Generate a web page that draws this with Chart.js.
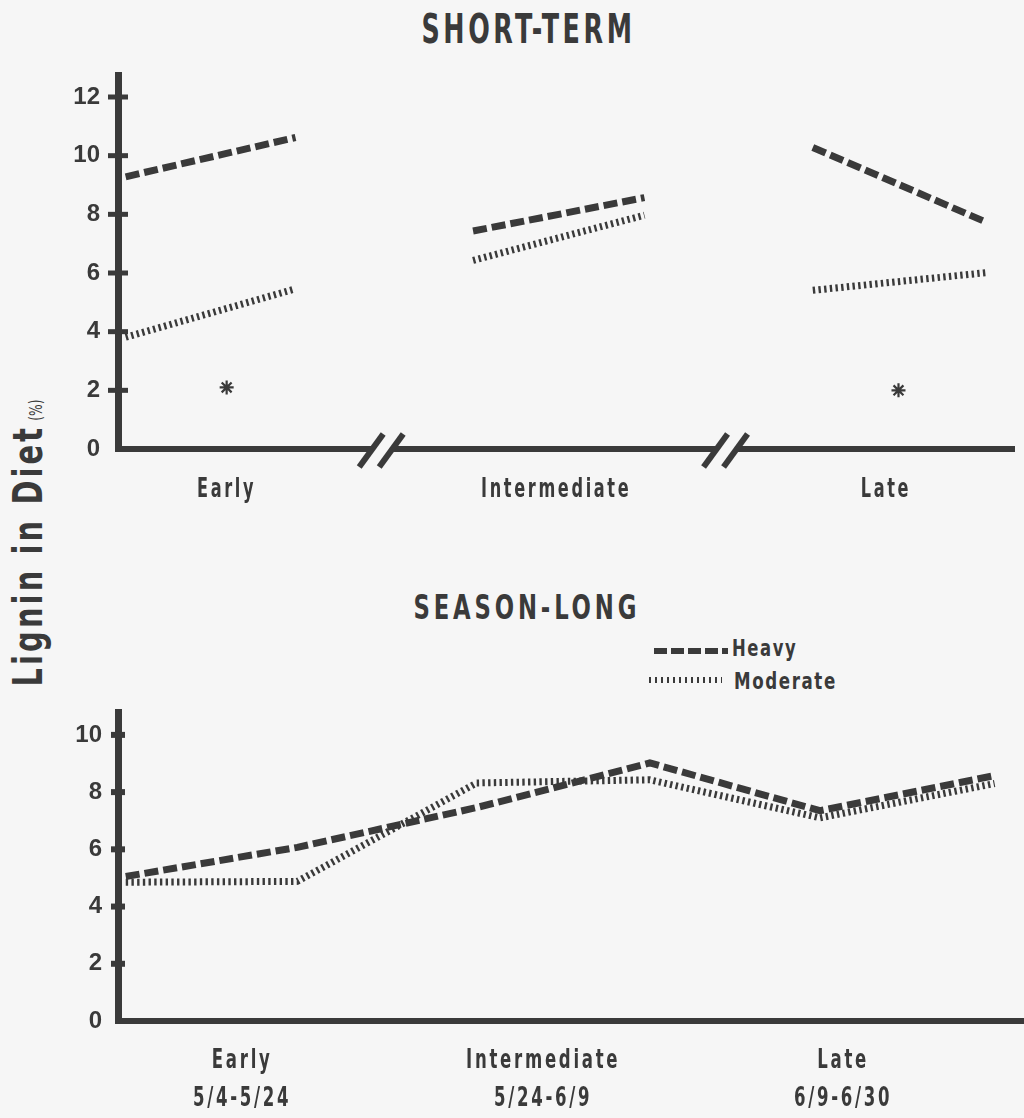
<!DOCTYPE html>
<html>
<head>
<meta charset="utf-8">
<script src="https://cdn.jsdelivr.net/npm/chart.js@4.4.0/dist/chart.umd.min.js"></script>
<style>
  html, body { margin: 0; padding: 0; background: #f6f6f6; }
  #page { position: relative; width: 1024px; height: 1118px; overflow: hidden; }
  canvas { position: absolute; left: 0; }
  .txt {
    position: absolute;
    white-space: nowrap;
    font-family: "Liberation Sans Narrow", "DejaVu Sans Condensed", "Arial Narrow", sans-serif;
    font-weight: bold;
    color: #3a3a3a;
    line-height: 1;
  }
  .sample { position: absolute; }
</style>
</head>
<body>
<div id="page">
  <div id="titleShort" class="txt" style="font-size:40px;letter-spacing:5px;">SHORT-TERM</div>
  <div id="titleLong" class="txt" style="font-size:33px;letter-spacing:5px;">SEASON-LONG</div>
  <div id="ytitle" class="txt"><span style="font-size:40px;letter-spacing:4px;">Lignin in Diet</span> <span style="font-size:17px;font-weight:normal;">(%)</span></div>

  <div class="sample" style="left:650px;top:648px;width:78px;height:6px;background:repeating-linear-gradient(to right,transparent 0 4px,#3a3a3a 4px 17px);"></div>
  <div class="sample" style="left:649px;top:677px;width:73px;height:6px;background:repeating-linear-gradient(to right,#3a3a3a 0 2px,transparent 2px 6px);"></div>
  <div id="legHeavy" class="txt" style="font-size:23px;letter-spacing:2px;">Heavy</div>
  <div id="legModerate" class="txt" style="font-size:23px;letter-spacing:2px;">Moderate</div>

  <canvas id="shortChart" width="1024" height="530" style="top:0px;"></canvas>
  <canvas id="longChart" width="1024" height="418" style="top:700px;"></canvas>
</div>

<script>
const ink = "#3a3a3a";
const paper = "#f6f6f6";

// periods and their date ranges
const periods = ["Early", "Intermediate", "Late"];
const periodDates = ["5/4-5/24", "5/24-6/9", "6/9-6/30"];

// collection dates, days after 5/4
const sampleDays = [0.5, 11.6, 23.2, 34.4, 45.4, 56.7];
const dayMax = 58.6;

// short-term trial: start / end value in each period
const shortHeavy = [9.28, 10.62, 7.43, 8.57, 10.28, 7.74];
const shortModerate = [3.81, 5.46, 6.43, 7.97, 5.41, 6.01];
// asterisk markers
const shortMarkDays = [7.1, 51.0];
const shortMarks = [2.1, 2.0];

// season-long trial
const longHeavy = [5.05, 6.07, 7.46, 9.02, 7.35, 8.58];
const longModerate = [4.85, 4.88, 8.32, 8.43, 7.1, 8.3];

// axis ticks
const shortYTicks = [0, 2, 4, 6, 8, 10, 12];
const longYTicks = [0, 2, 4, 6, 8, 10];
const shortLabelDays = [7.1, 28.6, 50.2];
const longLabelDays = [8.0, 27.5, 46.9];
const breakDays = [17.2, 39.7];

const numFont = {
  family: "'Liberation Sans', Arial, sans-serif",
  weight: "bold",
  size: 24,
};

// cross marks on the y axis and the // breaks on the x axis
const axisMarks = {
  id: "axisMarks",
  afterDraw(chart, args, opts) {
    const { ctx, scales: { x, y } } = chart;
    ctx.save();
    ctx.strokeStyle = ink;
    ctx.lineWidth = opts.tickWidth;
    y.ticks.forEach((t) => {
      if (t.value === 0) return;
      const py = y.getPixelForValue(t.value);
      ctx.beginPath();
      ctx.moveTo(x.left - opts.tickHalf, py);
      ctx.lineTo(x.left + opts.tickHalf, py);
      ctx.stroke();
    });
    (opts.breaks || []).forEach((d) => {
      const px = x.getPixelForValue(d);
      const py = y.bottom;
      ctx.fillStyle = paper;
      ctx.fillRect(px - 10, py - 5, 20, 10);
      ctx.lineWidth = 6;
      [-10, 10].forEach((off) => {
        ctx.beginPath();
        ctx.moveTo(px + off - 12, py + 18);
        ctx.lineTo(px + off + 12, py - 15);
        ctx.stroke();
      });
    });
    ctx.restore();
  },
};

function points(days, values) {
  return days.map((d, i) => ({ x: d, y: values[i] }));
}

function xAxis(height) {
  return {
    type: "linear",
    min: 0,
    max: dayMax,
    grid: { display: false, drawTicks: false },
    border: { display: true, width: 6, color: ink },
    ticks: { display: false },
    afterFit: (s) => {
      s.height = height;
      s.paddingLeft = 0;
      s.paddingRight = 0;
    },
  };
}

function yAxis(max, tickValues, pad) {
  return {
    min: 0,
    max: max,
    grid: { display: false, drawTicks: false },
    border: { display: true, width: 7, color: ink },
    afterBuildTicks: (s) => {
      s.ticks = tickValues.map((v) => ({ value: v }));
    },
    afterFit: (s) => {
      s.width = 118;
      s.paddingTop = 0;
      s.paddingBottom = 0;
    },
    ticks: { color: ink, padding: pad, font: numFont },
  };
}

const hidden = "rgba(0,0,0,0)";

// === Short-term chart ===
const shortChart = new Chart(document.getElementById("shortChart"), {
  type: "line",
  data: {
    datasets: [
      {
        label: "Heavy",
        data: points(sampleDays, shortHeavy),
        borderColor: ink,
        borderWidth: 7,
        borderDash: [14, 5],
        pointRadius: 0,
        segment: { borderColor: (c) => (c.p0DataIndex % 2 ? hidden : ink) },
      },
      {
        label: "Moderate",
        data: points(sampleDays, shortModerate),
        borderColor: ink,
        borderWidth: 7,
        borderDash: [2.4, 3.3],
        pointRadius: 0,
        segment: { borderColor: (c) => (c.p0DataIndex % 2 ? hidden : ink) },
      },
      {
        type: "scatter",
        label: "*",
        data: points(shortMarkDays, shortMarks),
        pointStyle: "star",
        pointRadius: 7,
        borderWidth: 2.2,
        borderColor: ink,
      },
    ],
  },
  options: {
    responsive: false,
    animation: false,
    layout: { padding: { top: 75, left: 0, right: 0, bottom: 0 } },
    plugins: {
      legend: { display: false },
      tooltip: { enabled: false },
      axisMarks: { tickHalf: 10, tickWidth: 5, breaks: breakDays },
    },
    scales: {
      x: xAxis(81),
      y: yAxis(12.75, shortYTicks, 18),
    },
  },
  plugins: [axisMarks],
});

// === Season-long chart ===
const longChart = new Chart(document.getElementById("longChart"), {
  type: "line",
  data: {
    datasets: [
      {
        label: "Heavy",
        data: points(sampleDays, longHeavy),
        borderColor: ink,
        borderWidth: 7,
        borderDash: [14, 5],
        pointRadius: 0,
      },
      {
        label: "Moderate",
        data: points(sampleDays, longModerate),
        borderColor: ink,
        borderWidth: 7,
        borderDash: [2.4, 3.3],
        pointRadius: 0,
      },
    ],
  },
  options: {
    responsive: false,
    animation: false,
    layout: { padding: { top: 12, left: 0, right: 0, bottom: 0 } },
    plugins: {
      legend: { display: false },
      tooltip: { enabled: false },
      axisMarks: { tickHalf: 7, tickWidth: 6 },
    },
    scales: {
      x: xAxis(97),
      y: yAxis(10.8, longYTicks, 16),
    },
  },
  plugins: [axisMarks],
});

// === period labels under each x axis, placed by the x scale ===
function periodLabels(chart, days, lines, o) {
  const page = document.getElementById("page");
  const x = chart.scales.x;
  const els = lines.map((ls) => {
    const el = document.createElement("div");
    el.className = "txt";
    el.style.fontSize = o.size + "px";
    el.style.letterSpacing = o.spacing + "px";
    el.style.lineHeight = o.lineHeight + "px";
    el.style.textAlign = "center";
    el.innerHTML = ls.join("<br>");
    page.appendChild(el);
    return el;
  });
  const s = o.refWidth / els[1].offsetWidth;
  els.forEach((el, i) => {
    const w = el.offsetWidth;
    el.style.left = x.getPixelForValue(days[i]) - w / 2 + "px";
    el.style.top = chart.canvas.offsetTop + x.top + o.offset + "px";
    el.style.transform = `scaleX(${s})`;
  });
}

periodLabels(shortChart, shortLabelDays, periods.map((p) => [p]), {
  size: 27, spacing: 4, lineHeight: 27, refWidth: 150, offset: 25,
});
periodLabels(longChart, longLabelDays, periods.map((p, i) => [p, periodDates[i]]), {
  size: 27, spacing: 4, lineHeight: 38, refWidth: 154, offset: 19,
});

// === HTML text: titles, legend, y title ===
function fitCenter(id, cx, top, width) {
  const el = document.getElementById(id);
  const w = el.offsetWidth;
  el.style.left = cx - w / 2 + "px";
  el.style.top = top + "px";
  el.style.transform = `scaleX(${width / w})`;
}
function fitLeft(id, left, top, width) {
  const el = document.getElementById(id);
  const w = el.offsetWidth;
  el.style.left = left + "px";
  el.style.top = top + "px";
  el.style.transformOrigin = "left top";
  el.style.transform = `scaleX(${width / w})`;
}

fitCenter("titleShort", 528, 9, 214);
fitCenter("titleLong", 527, 591, 227);
fitLeft("legHeavy", 732, 637, 65);
fitLeft("legModerate", 734, 670, 103);

const yt = document.getElementById("ytitle");
const yw = yt.offsetWidth;
const yh = yt.offsetHeight;
yt.style.left = 28 - yw / 2 + "px";
yt.style.top = 543 - yh / 2 + "px";
yt.style.transform = `rotate(-90deg) scaleX(${287 / yw})`;
</script>
</body>
</html>
